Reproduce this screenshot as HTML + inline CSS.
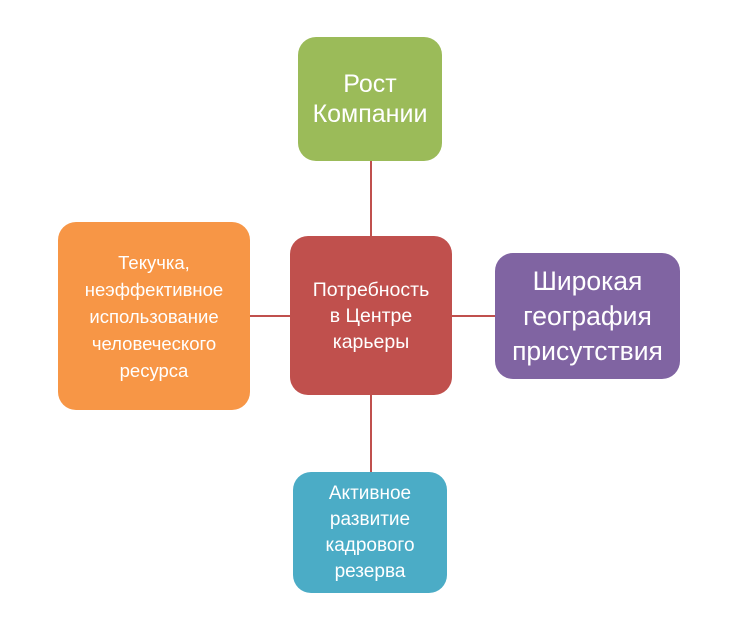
<!DOCTYPE html>
<html><head><meta charset="utf-8"><style>
html,body{margin:0;padding:0;background:#fff;}
body{width:742px;height:629px;position:relative;overflow:hidden;font-family:"Liberation Sans","DejaVu Sans",sans-serif;}
.b{position:absolute;border-radius:18px;color:#fff;display:flex;align-items:center;justify-content:center;text-align:center;}
.l{position:absolute;background:#c0504d;}
</style></head><body>
<div class="l" style="left:370px;top:160px;width:2px;height:78px"></div>
<div class="l" style="left:370px;top:394px;width:2px;height:80px"></div>
<div class="l" style="left:249px;top:315px;width:43px;height:2px"></div>
<div class="l" style="left:451px;top:315px;width:46px;height:2px"></div>
<div class="b" style="left:298px;top:37px;width:144px;height:124px;background:#9bbb59;font-size:25px;line-height:30px;">Рост<br>Компании</div>
<div class="b" style="left:290px;top:236px;width:162px;height:159px;background:#c0504d;font-size:19.5px;line-height:26px;">Потребность<br>в Центре<br>карьеры</div>
<div class="b" style="left:58px;top:222px;width:192px;height:188px;background:#f79646;font-size:18.5px;line-height:27px;">Текучка,<br>неэффективное<br>использование<br>человеческого<br>ресурса</div>
<div class="b" style="left:495px;top:253px;width:185px;height:126px;background:#8064a2;font-size:26.5px;line-height:35px;">Широкая<br>география<br>присутствия</div>
<div class="b" style="left:293px;top:472px;width:154px;height:121px;background:#4bacc6;font-size:19px;line-height:26px;">Активное<br>развитие<br>кадрового<br>резерва</div>
</body></html>
